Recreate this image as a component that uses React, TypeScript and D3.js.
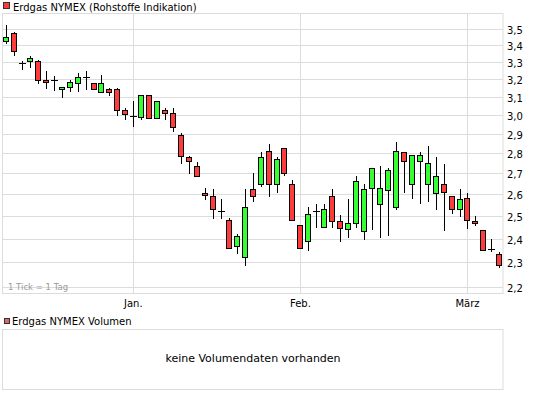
import React from "react";
import * as d3 from "d3";

const openPrices = [3.425,3.475,3.295,3.305,3.305,3.194,3.194,3.141,3.152,3.175,3.21,3.175,3.124,3.141,3.141,3.024,2.992,2.986,3.111,2.981,3.024,3.011,2.891,2.783,2.734,2.605,2.594,2.521,2.484,2.371,2.324,2.623,2.651,2.812,2.651,2.824,2.651,2.462,2.392,2.521,2.453,2.594,2.48,2.444,2.471,2.436,2.632,2.553,2.618,2.543,2.804,2.648,2.763,2.651,2.604,2.651,2.594,2.534,2.585,2.48,2.44,2.356,2.337];
const highPrices = [3.527,3.48,3.305,3.335,3.31,3.246,3.217,3.152,3.194,3.236,3.246,3.175,3.221,3.15,3.15,3.038,3.074,3.111,3.111,3.074,3.038,3.038,2.901,2.785,2.755,2.632,2.623,2.58,2.493,2.422,2.623,2.704,2.804,2.844,2.783,2.824,2.67,2.462,2.543,2.553,2.553,2.623,2.507,2.58,2.685,2.651,2.724,2.735,2.724,2.856,2.804,2.793,2.804,2.836,2.783,2.744,2.594,2.623,2.604,2.502,2.44,2.398,2.343];
const lowPrices = [3.413,3.34,3.26,3.272,3.179,3.15,3.137,3.099,3.133,3.133,3.141,3.141,3.124,3.111,3.0,2.979,2.94,2.979,2.981,2.981,2.979,2.912,2.753,2.702,2.685,2.58,2.493,2.493,2.362,2.339,2.289,2.569,2.638,2.593,2.611,2.693,2.484,2.362,2.354,2.452,2.453,2.452,2.392,2.408,2.453,2.399,2.443,2.408,2.416,2.53,2.611,2.582,2.562,2.571,2.532,2.44,2.516,2.502,2.449,2.462,2.354,2.348,2.281];
const closePrices = [3.45,3.364,3.295,3.322,3.192,3.183,3.194,3.152,3.183,3.21,3.21,3.141,3.175,3.124,3.024,3.002,2.992,3.111,2.981,3.074,3.011,2.933,2.785,2.763,2.685,2.596,2.534,2.521,2.362,2.414,2.542,2.594,2.783,2.651,2.773,2.702,2.484,2.362,2.511,2.521,2.532,2.48,2.449,2.471,2.661,2.623,2.724,2.632,2.714,2.812,2.763,2.793,2.793,2.753,2.685,2.613,2.534,2.58,2.484,2.471,2.354,2.356,2.289];

const priceTicks = [2.2, 2.3, 2.4, 2.5, 2.6, 2.7, 2.8, 2.9, 3.0, 3.1, 3.2, 3.3, 3.4, 3.5];
const monthLabels = ["Jan.", "Feb.", "März"];
const monthStartIndex = [16, 37, 58];

const legendTitle = "Erdgas NYMEX (Rohstoffe Indikation)";
const volumeTitle = "Erdgas NYMEX Volumen";
const noVolumeText = "keine Volumendaten vorhanden";
const tickNote = "1 Tick = 1 Tag";

const W = 545;
const H = 398;
const FONT = "'DejaVu Sans', sans-serif";
const GRID = "#dcdcdc";
const RED = "#ff3b3b";
const GREEN = "#33ff33";

export default function App() {
  const left = 2.5, right = 503, top = 13.5, bottom = 293.5;
  const n = openPrices.length;
  const x = d3.scaleLinear().domain([0, n - 1]).range([6, 499.3]);
  const y = d3.scaleLog().domain([2.175, 3.6]).range([bottom, top]);
  const fmt = (v: number) => d3.format(".1f")(v).replace(".", ",");
  const snap = (v: number) => Math.round(v) + 0.5;

  const candles = openPrices.map((o, i) => {
    const c = closePrices[i];
    const h = highPrices[i];
    const l = lowPrices[i];
    const cx = Math.round(x(i));
    const wx = cx + 0.5;
    const yTop = Math.round(y(Math.max(o, c)));
    const yBot = Math.round(y(Math.min(o, c)));
    const doji = Math.abs(o - c) < 1e-9;
    return (
      <g key={i}>
        <line x1={wx} x2={wx} y1={Math.round(y(h))} y2={Math.round(y(l)) + 1} stroke="#000" strokeWidth={1} />
        {doji ? (
          <line x1={cx - 3} x2={cx + 4} y1={yTop + 0.5} y2={yTop + 0.5} stroke="#000" strokeWidth={1} />
        ) : (
          <rect
            x={cx - 3 + 0.5}
            y={yTop + 0.5}
            width={5}
            height={Math.max(1, yBot - yTop)}
            fill={c > o ? GREEN : RED}
            stroke="#000"
            strokeWidth={1}
          />
        )}
      </g>
    );
  });

  return (
    <svg width={W} height={H} style={{ position: "absolute", left: 0, top: 0, background: "#fff" }} fontFamily={FONT}>
      {/* top legend */}
      <rect x={3.5} y={2.5} width={6} height={6} fill={RED} stroke="#333" strokeWidth={1} />
      <text x={13} y={10.5} fontSize={10} fill="#000">{legendTitle}</text>

      {/* grid */}
      {priceTicks.map((t) => (
        <line key={"g" + t} x1={left} x2={right} y1={snap(y(t))} y2={snap(y(t))} stroke={GRID} strokeWidth={1} />
      ))}
      {monthStartIndex.map((idx, k) => (
        <line key={"m" + k} x1={snap(x(idx))} x2={snap(x(idx))} y1={top} y2={bottom} stroke={GRID} strokeWidth={1} />
      ))}
      <rect x={left} y={top} width={right - left} height={bottom - top} fill="none" stroke={GRID} strokeWidth={1} />

      <text x={8} y={289.5} fontSize={8.5} fill="#9a9a9a">{tickNote}</text>

      {candles}

      {/* right axis */}
      {priceTicks.map((t) => (
        <text key={"t" + t} x={507} y={snap(y(t)) + 4.5} fontSize={10} fill="#000">{fmt(t)}</text>
      ))}
      {/* month labels */}
      {monthLabels.map((m, k) => (
        <text key={"l" + k} x={x(monthStartIndex[k])} y={307} fontSize={10} textAnchor="middle" fill="#000">{m}</text>
      ))}

      {/* volume panel */}
      <rect x={4.5} y={318.5} width={5} height={5} fill="#dd6666" stroke="#333" strokeWidth={1} />
      <text x={12} y={325} fontSize={10} fill="#000">{volumeTitle}</text>
      <rect x={left} y={329.5} width={right - left} height={60} fill="none" stroke={GRID} strokeWidth={1} />
      <text x={253} y={362} fontSize={11} textAnchor="middle" fill="#000">{noVolumeText}</text>
    </svg>
  );
}
